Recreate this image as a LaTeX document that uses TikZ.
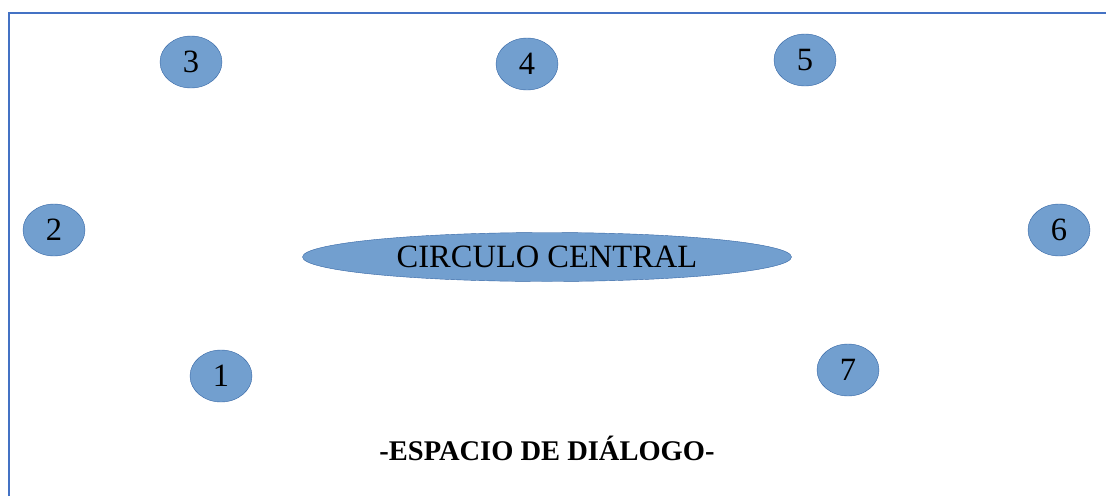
\documentclass[tikz,border=0pt]{standalone}
\usepackage{fontspec}
\setmainfont{Liberation Serif}
\usetikzlibrary{shapes.geometric}
\definecolor{seatfill}{RGB}{114,159,207}
\definecolor{seatline}{RGB}{52,101,164}
\definecolor{framecol}{RGB}{68,114,196}

\begin{document}
\begin{tikzpicture}[x=1pt,y=-1pt]
\useasboundingbox (0,0) rectangle (1106,496);
\draw[framecol, line width=1.2pt] (9,496) -- (9,13) -- (1106,13);
\tikzstyle{every node}=[shape=ellipse, draw=seatline, fill=seatfill, inner sep=0pt, font=\fontsize{32.5}{32.5}\selectfont];
\tikzstyle{seat}=[minimum width=62pt, minimum height=52pt];
\node[seat] (s3) at (191, 62) {3};
\node[seat] (s4) at (527, 64) {4};
\node[seat] (s5) at (805, 60) {5};
\node[seat] (s2) at (54, 230) {2};
\node[seat] (s6) at (1059, 230) {6};
\node[seat] (s1) at (221, 376) {1};
\node[seat] (s7) at (848, 370) {7};
\node[minimum width=489pt, minimum height=49pt] (c0) at (547, 257) {CIRCULO CENTRAL};
\tikzstyle{every node}=[];
\node[font=\fontsize{28.5}{28.5}\selectfont\bfseries] (t0) at (547, 448) {-ESPACIO DE DIÁLOGO-};
\end{tikzpicture}
\end{document}
